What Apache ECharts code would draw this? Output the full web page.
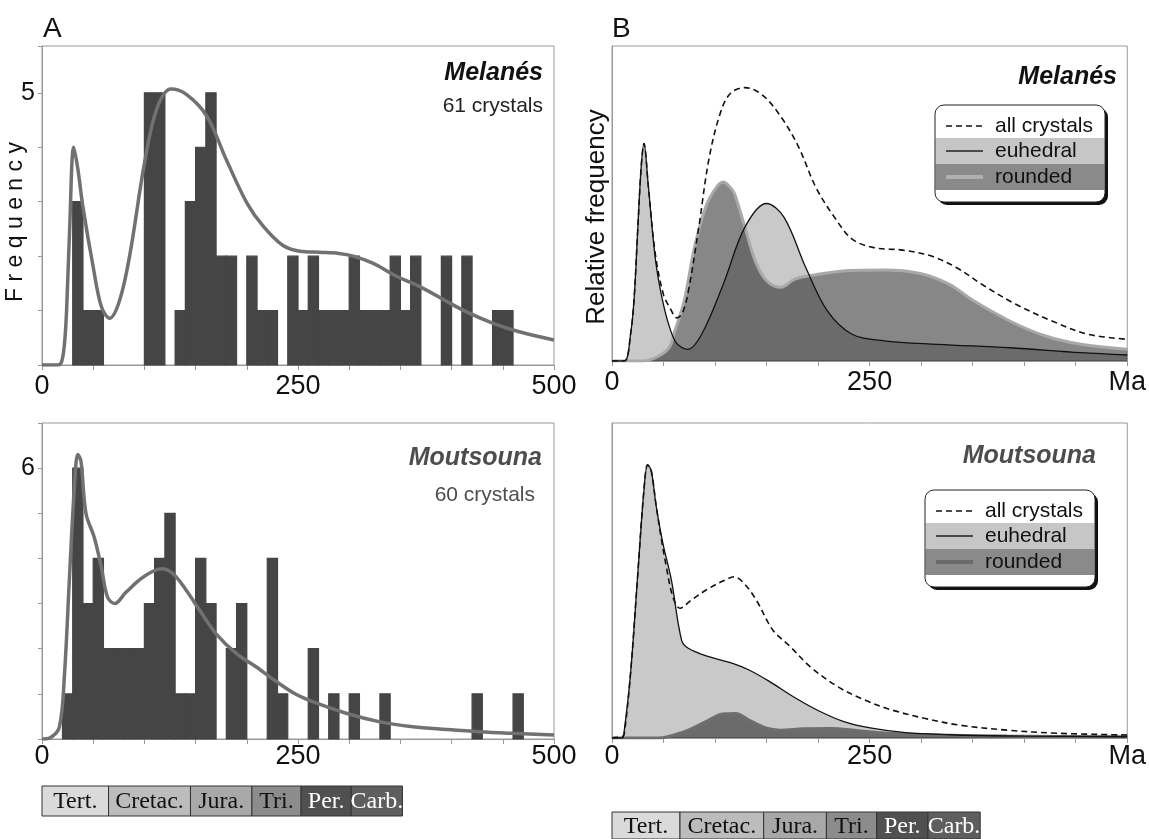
<!DOCTYPE html>
<html>
<head>
<meta charset="utf-8">
<script src="https://cdn.jsdelivr.net/npm/echarts@6/dist/echarts.min.js"></script>
<style>
  html, body { margin: 0; padding: 0; background: #fff; }
  #chart { width: 1149px; height: 839px; }
</style>
</head>
<body>
<div id="chart"></div>
<script>
// histogram bins are 10 Ma wide, 0-500 Ma
const binWidth = 10;
const melanesCounts = [0, 0, 0, 3, 1, 1, 0, 0, 0, 0, 5, 5, 0, 1, 3, 4, 5, 2, 2, 0,
  2, 1, 1, 0, 2, 1, 2, 1, 1, 1, 2, 1, 1, 1, 2, 1, 2, 0, 0, 2,
  0, 2, 0, 0, 1, 1, 0, 0, 0, 0];
const moutsounaCounts = [0, 0, 1, 6, 3, 4, 2, 2, 2, 2, 3, 4, 5, 1, 1, 4, 3, 0, 2, 3,
  0, 0, 4, 1, 0, 0, 2, 0, 1, 0, 1, 0, 0, 1, 0, 0, 0, 0, 0, 0,
  0, 0, 1, 0, 0, 0, 1, 0, 0, 0];

// density curves over the histograms [Ma, frequency]
const melanesKde = [[0, 0], [15, 0], [19, 0.05], [22, 0.4], [24, 1.0], [27, 2.5], [31, 4.0], [35, 3.6],
  [40, 2.9], [50, 1.8], [58, 1.07], [66, 0.86], [76, 1.2], [86, 2.05], [100, 3.7], [112, 4.7],
  [126, 5.07], [141, 4.97], [161, 4.57], [180, 3.77], [200, 2.98], [216, 2.55], [235, 2.2],
  [252, 2.09], [271, 2.07], [290, 2.05], [304, 2.0], [323, 1.87], [346, 1.63], [369, 1.44],
  [395, 1.17], [414, 0.98], [440, 0.77], [466, 0.61], [500, 0.46]];
const moutsounaKde = [[0, 0], [8, 0.03], [17, 0.27], [22, 1.45], [27, 3.66], [32, 5.72], [35, 6.3],
  [38, 6.16], [43, 4.99], [51, 4.47], [58, 3.8], [64, 3.14], [71, 3.0], [82, 3.25], [99, 3.59],
  [117, 3.77], [128, 3.66], [141, 3.29], [154, 2.85], [170, 2.33], [190, 1.89], [209, 1.6],
  [229, 1.27], [248, 0.99], [265, 0.82], [297, 0.57], [330, 0.38], [362, 0.27], [395, 0.21],
  [427, 0.16], [460, 0.125], [500, 0.09]];

// relative frequency curves (panel B), 0-100 = full panel height
const melanesAll = [[0, 0], [12, 0], [18, 8.5], [21.5, 20], [25, 42], [28.4, 62], [31, 69], [35.4, 55],
  [42, 34], [50, 21], [56, 17], [63, 13.7], [68, 15], [74, 22], [84, 42], [94, 64], [105, 78.6],
  [115, 85], [129, 86.8], [146, 84.4], [164, 77.5], [181, 68], [198, 55], [216, 45.6], [233, 38.7],
  [254, 36], [282, 35.2], [309, 33.4], [334, 29.7], [361, 23.9], [392, 18], [427, 12.7],
  [462, 8.5], [500, 6.9]];
const melanesEuhedral = [[0, 0], [12, 0], [18, 8.5], [21.5, 20], [25, 42], [28.4, 62], [31, 69],
  [35.4, 55], [42.3, 31.8], [49.2, 19], [56, 10.6], [63, 5.5], [73.5, 3.7], [87, 8.5], [108, 24.4],
  [129, 42.5], [150, 50], [167, 45.6], [188, 29.7], [209, 15.9], [233, 8.5], [264, 6.4],
  [316, 5.3], [386, 4.2], [455, 2.65], [500, 1.9]];
const melanesRounded = [[0, 0], [30, 0], [45, 1.5], [56, 4.5], [60, 8.5], [70, 19], [80, 36], [91, 49],
  [101, 55], [108, 56.8], [115, 55], [119, 53], [129, 42.5], [139, 31.8], [150, 25.5], [164, 23.4],
  [177.5, 26], [198, 27.4], [229.5, 28.7], [264, 28.9], [299, 27.8], [327, 24.4], [351, 19.1],
  [386, 12.7], [420, 8], [455, 5.3], [500, 3.7]];

const moutsounaAll = [[0, 0], [10, 0.5], [12, 1.5], [18, 20.5], [25, 52], [31, 78.7], [34.6, 86.7],
  [38, 85], [43, 73.4], [48, 63], [52.7, 54.4], [59, 44.9], [66, 41.2], [77, 43.8], [94, 47.5],
  [110, 50.2], [118.5, 51.2], [128, 49.1], [140, 43.8], [156, 34.3], [173, 29], [192.5, 22.6],
  [219, 16.3], [245, 12.1], [271.5, 8.9], [304, 6.2], [337, 4.1], [383, 2.5], [433, 1.5],
  [500, 0.95]];
const moutsounaEuhedral = [[0, 0], [10, 0], [11.6, 1.5], [18, 20.5], [25, 52], [31, 78.7],
  [34.6, 86.7], [38, 85], [43, 73.4], [49.4, 61.8], [57.6, 50.2], [67.5, 31.1], [74, 28.5],
  [94, 25.8], [117, 23.7], [133, 21.6], [153, 17.9], [176, 13.1], [199, 8.9], [225, 5.2],
  [252, 3.1], [285, 1.7], [334, 0.95], [400, 0.6], [500, 0.4]];
const moutsounaRounded = [[0, 0], [45, 0], [54, 0.4], [74, 2.5], [94, 5.7], [107, 7.6], [120, 7.8],
  [133, 5.7], [150, 3.1], [163, 2.5], [186, 2.9], [212, 3.0], [239, 2.3], [268, 1.5], [318, 0.95],
  [383, 0.6], [500, 0.4]];

// geological time scale under the panels
const periodNames = ['Tert.', 'Cretac.', 'Jura.', 'Tri.', 'Per.', 'Carb.'];
const periodStart = [0, 65, 145, 205, 253, 302];
const periodEnd = [65, 145, 205, 253, 302, 352];
const periodFill = ['#dadada', '#bcbcbc', '#a8a8a8', '#8c8c8c', '#505050', '#5e5e5e'];
const periodInk = ['#111', '#111', '#111', '#111', '#fff', '#fff'];

const tickLabelsA = { 0: '0', 250: '250', 500: '500' };
const tickLabelsB = { 0: '0', 250: '250', 500: 'Ma' };

const sans = '"Liberation Sans", Arial, sans-serif';
const serif = '"Liberation Serif", "Times New Roman", serif';

const chart = echarts.init(document.getElementById('chart'));

function histData(counts) {
  return counts.map((c, i) => [i * binWidth, (i + 1) * binWidth, c]);
}

function renderBin(params, api) {
  const c = api.value(2);
  if (!c) return null;
  const p0 = api.coord([api.value(0), c]);
  const p1 = api.coord([api.value(1), 0]);
  // stroke in the fill colour closes the hairline seams between neighbouring bins
  return {
    type: 'rect',
    shape: { x: p0[0], y: p0[1], width: p1[0] - p0[0], height: p1[1] - p0[1] },
    style: { fill: '#454545', stroke: '#454545', lineWidth: 1.2 }
  };
}

function renderPeriod(params, api) {
  const i = api.value(2);
  const p0 = api.coord([api.value(0), 1]);
  const p1 = api.coord([api.value(1), 0]);
  return {
    type: 'group',
    children: [
      { type: 'rect', shape: { x: p0[0], y: p0[1], width: p1[0] - p0[0], height: p1[1] - p0[1] },
        style: { fill: periodFill[i], stroke: '#333', lineWidth: 1 } },
      { type: 'text', style: { text: periodNames[i], x: (p0[0] + p1[0]) / 2, y: (p0[1] + p1[1]) / 2 + 1,
        align: 'center', verticalAlign: 'middle', fill: periodInk[i], font: '24px ' + serif } }
    ]
  };
}

const periodData = periodNames.map((n, i) => [periodStart[i], periodEnd[i], i]);

function xAxisFor(grid, labels, margin) {
  return {
    type: 'value', gridIndex: grid, min: 0, max: 500, interval: 50,
    axisLine: { show: true, lineStyle: { color: '#999' } },
    axisTick: { show: true, length: 5, lineStyle: { color: '#999' } },
    axisLabel: { margin: margin, fontSize: 27, fontFamily: sans, color: '#111',
      showMinLabel: true, showMaxLabel: true,
      formatter: v => labels[v] || '' },
    splitLine: { show: false }
  };
}

function yAxisHist(grid, max, labelAt) {
  return {
    type: 'value', gridIndex: grid, min: 0, max: max, interval: 1,
    axisLine: { show: true, lineStyle: { color: '#999' } },
    axisTick: { show: true, length: 4, lineStyle: { color: '#999' } },
    axisLabel: { margin: 7, fontSize: 25, fontFamily: sans, color: '#111',
      formatter: v => (v === labelAt ? String(v) : '') },
    splitLine: { show: false }
  };
}

function yAxisRel(grid) {
  return {
    type: 'value', gridIndex: grid, min: 0, max: 100,
    axisLine: { show: true, lineStyle: { color: '#999' } },
    axisTick: { show: false }, axisLabel: { show: false }, splitLine: { show: false }
  };
}

function hidden(grid, isX) {
  return { type: 'value', gridIndex: grid, min: 0, max: isX ? 500 : 1, show: false };
}

function line(idx, data, extra) {
  return Object.assign({
    type: 'line', xAxisIndex: idx, yAxisIndex: idx, data: data, smooth: 0.35,
    showSymbol: false, silent: true
  }, extra);
}

function densitySeries(idx, all, euh, rnd, roundedLine) {
  return [
    line(idx, rnd, { lineStyle: { width: 0, opacity: 0 }, areaStyle: { color: 'rgba(0,0,0,0.47)', opacity: 1 }, z: 2 }),
    line(idx, euh, { lineStyle: { width: 0, opacity: 0 }, areaStyle: { color: 'rgba(0,0,0,0.21)', opacity: 1 }, z: 2 }),
    line(idx, rnd, { lineStyle: { color: roundedLine, width: 3 }, z: 3 }),
    line(idx, euh, { lineStyle: { color: '#111', width: 1.3 }, z: 4 }),
    line(idx, all, { lineStyle: { color: '#111', width: 1.6, type: [6, 4] }, z: 5 })
  ];
}

function legendBox(x, y, roundedLine) {
  const w = 170, h = 97;
  return {
    type: 'group', x: x, y: y, silent: true,
    children: [
      { type: 'rect', shape: { x: 3, y: 3, width: w, height: h, r: 9 }, style: { fill: '#111' } },
      { type: 'rect', shape: { x: 0, y: 0, width: w, height: h, r: 9 }, style: { fill: '#fff' } },
      { type: 'rect', shape: { x: 0.5, y: 33, width: w - 1, height: 26 }, style: { fill: '#c6c6c6' } },
      { type: 'rect', shape: { x: 0.5, y: 59, width: w - 1, height: 26 }, style: { fill: '#8a8a8a' } },
      { type: 'rect', shape: { x: 0, y: 0, width: w, height: h, r: 9 }, style: { fill: null, stroke: '#222', lineWidth: 1 } },
      { type: 'line', shape: { x1: 11, y1: 21, x2: 48, y2: 21 }, style: { stroke: '#111', lineWidth: 1.6, lineDash: [6, 4] } },
      { type: 'line', shape: { x1: 11, y1: 46, x2: 48, y2: 46 }, style: { stroke: '#222', lineWidth: 1.3 } },
      { type: 'line', shape: { x1: 11, y1: 72, x2: 48, y2: 72 }, style: { stroke: roundedLine, lineWidth: 4 } },
      { type: 'text', style: { text: 'all crystals', x: 60, y: 21, verticalAlign: 'middle', font: '21px ' + sans, fill: '#111' } },
      { type: 'text', style: { text: 'euhedral', x: 60, y: 46, verticalAlign: 'middle', font: '21px ' + sans, fill: '#111' } },
      { type: 'text', style: { text: 'rounded', x: 60, y: 72, verticalAlign: 'middle', font: '21px ' + sans, fill: '#111' } }
    ]
  };
}

function label(text, x, y, font, fill, align) {
  return { type: 'text', silent: true, style: { text: text, x: x, y: y, align: align || 'right',
    verticalAlign: 'middle', font: font, fill: fill || '#111' } };
}

chart.setOption({
  animation: false,
  grid: [
    { left: 42, top: 46, width: 512, height: 319, show: true, borderColor: '#999' },
    { left: 612, top: 46, width: 523, height: 315, show: true, borderColor: '#999' },
    { left: 42, top: 423, width: 512, height: 316, show: true, borderColor: '#999' },
    { left: 612, top: 423, width: 522, height: 315, show: true, borderColor: '#999' },
    { left: 42, top: 786, width: 512, height: 30 },
    { left: 612, top: 812, width: 523, height: 30 }
  ],
  xAxis: [
    xAxisFor(0, tickLabelsA, 8),
    xAxisFor(1, tickLabelsB, 8),
    xAxisFor(2, tickLabelsA, 4),
    xAxisFor(3, tickLabelsB, 5),
    hidden(4, true),
    hidden(5, true)
  ],
  yAxis: [
    yAxisHist(0, 5.86, 5),
    yAxisRel(1),
    yAxisHist(2, 7, 6),
    yAxisRel(3),
    hidden(4, false),
    hidden(5, false)
  ],
  series: [
    { type: 'custom', xAxisIndex: 0, yAxisIndex: 0, data: histData(melanesCounts), renderItem: renderBin,
      encode: { x: [0, 1], y: 2 }, silent: true, z: 2 },
    line(0, melanesKde, { lineStyle: { color: '#717171', width: 3.5 }, z: 3 }),
    { type: 'custom', xAxisIndex: 2, yAxisIndex: 2, data: histData(moutsounaCounts), renderItem: renderBin,
      encode: { x: [0, 1], y: 2 }, silent: true, z: 2 },
    line(2, moutsounaKde, { lineStyle: { color: '#717171', width: 3.5 }, z: 3 }),
    ...densitySeries(1, melanesAll, melanesEuhedral, melanesRounded, '#a9a9a9'),
    ...densitySeries(3, moutsounaAll, moutsounaEuhedral, moutsounaRounded, '#6e6e6e'),
    { type: 'custom', xAxisIndex: 4, yAxisIndex: 4, data: periodData, renderItem: renderPeriod,
      encode: { x: [0, 1] }, silent: true, clip: false },
    { type: 'custom', xAxisIndex: 5, yAxisIndex: 5, data: periodData, renderItem: renderPeriod,
      encode: { x: [0, 1] }, silent: true, clip: false }
  ],
  graphic: [
    label('A', 43, 29, '28px ' + sans, '#111', 'left'),
    label('B', 612, 29, '28px ' + sans, '#111', 'left'),
    label('Melanés', 543, 73, 'italic bold 25px ' + sans, '#111'),
    label('61 crystals', 543, 106, '21px ' + sans, '#222'),
    label('Melanés', 1117, 77, 'italic bold 25px ' + sans, '#111'),
    label('Moutsouna', 542, 458, 'italic bold 25px ' + sans, '#4d4d4d'),
    label('60 crystals', 535, 495, '21px ' + sans, '#4d4d4d'),
    label('Moutsouna', 1096, 456, 'italic bold 25px ' + sans, '#4d4d4d'),
    { type: 'text', x: 16, y: 222, rotation: Math.PI / 2, silent: true,
      style: { text: 'F r e q u e n c y', align: 'center', verticalAlign: 'middle', font: '23px ' + sans, fill: '#111' } },
    { type: 'text', x: 597, y: 217, rotation: Math.PI / 2, silent: true,
      style: { text: 'Relative frequency', align: 'center', verticalAlign: 'middle', font: '26px ' + sans, fill: '#111' } },
    legendBox(935, 105, '#b0b0b0'),
    legendBox(925, 490, '#6a6a6a')
  ]
});
</script>
</body>
</html>
